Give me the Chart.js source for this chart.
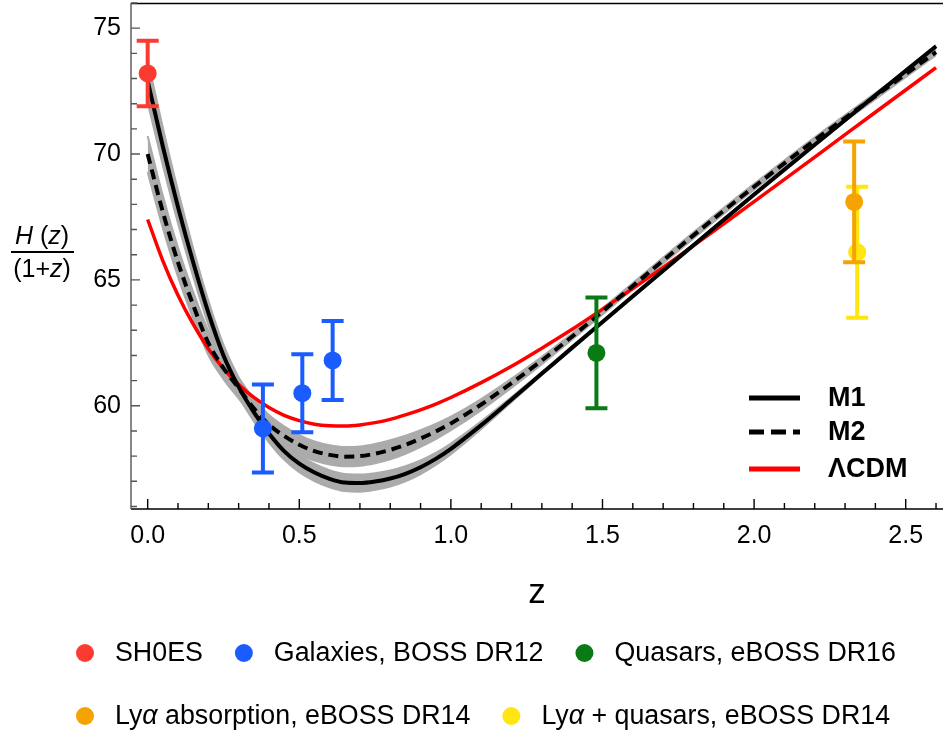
<!DOCTYPE html>
<html lang="en">
<head>
<meta charset="UTF-8">
<title>H(z)/(1+z)</title>
<script src="https://cdn.jsdelivr.net/npm/chart.js"></script>
<style>
  html, body { margin: 0; padding: 0; background: #fff; }
  #wrap { width: 943px; height: 734px; }
</style>
</head>
<body>
<div id="wrap"><canvas id="hz" width="943" height="734"></canvas></div>
<script>
  const FONT = '"Liberation Sans", Arial, sans-serif';

  // redshift grid for the model curves
  const zGrid = [0, 0.05, 0.1, 0.15, 0.2, 0.25, 0.3, 0.35, 0.4, 0.45, 0.5, 0.55, 0.6, 0.65, 0.7, 0.75, 0.8, 0.85, 0.9, 0.95,
                 1.0, 1.1, 1.2, 1.3, 1.4, 1.5, 1.6, 1.7, 1.8, 1.9, 2.0, 2.2, 2.4, 2.6];

  const m1   = [72.9, 70.3, 67.9, 65.7, 63.7, 62.0, 60.75, 59.75, 58.9, 58.2, 57.7, 57.35, 57.1, 56.95, 56.93, 56.99, 57.11, 57.3, 57.56, 57.89,
                58.29, 59.23, 60.25, 61.28, 62.31, 63.33, 64.35, 65.37, 66.38, 67.39, 68.39, 70.37, 72.33, 74.28];
  const m1Hi = [73.75, 71.05, 68.55, 66.26, 64.18, 62.42, 61.13, 60.11, 59.25, 58.54, 58.04, 57.69, 57.44, 57.29, 57.27, 57.32, 57.43, 57.6, 57.83, 58.13,
                58.5, 59.38, 60.35, 61.34, 62.36, 63.38, 64.4, 65.42, 66.43, 67.44, 68.44, 70.42, 72.38, 74.33];
  const m1Lo = [72.05, 69.55, 67.25, 65.14, 63.22, 61.58, 60.37, 59.39, 58.55, 57.86, 57.36, 57.01, 56.76, 56.61, 56.59, 56.66, 56.79, 57.0, 57.29, 57.65,
                58.08, 59.08, 60.15, 61.22, 62.26, 63.28, 64.3, 65.32, 66.33, 67.34, 68.34, 70.32, 72.28, 74.23];

  const m2   = [70.0, 67.7, 65.7, 64.0, 62.5, 61.5, 60.7, 59.9, 59.25, 58.8, 58.45, 58.2, 58.05, 57.98, 58.0, 58.1, 58.25, 58.45, 58.7, 58.98,
                59.3, 60.05, 60.9, 61.8, 62.75, 63.75, 64.76, 65.77, 66.77, 67.75, 68.7, 70.55, 72.3, 74.05];
  const m2Hi = [70.72, 68.34, 66.28, 64.53, 62.98, 61.94, 61.11, 60.28, 59.63, 59.18, 58.83, 58.58, 58.43, 58.36, 58.38, 58.48, 58.63, 58.81, 59.03, 59.28,
                59.57, 60.27, 61.08, 61.95, 62.87, 63.87, 64.88, 65.89, 66.89, 67.87, 68.82, 70.67, 72.42, 74.17];
  const m2Lo = [69.28, 67.06, 65.12, 63.47, 62.02, 61.06, 60.29, 59.52, 58.87, 58.42, 58.07, 57.82, 57.67, 57.6, 57.62, 57.72, 57.87, 58.09, 58.37, 58.68,
                59.03, 59.83, 60.72, 61.65, 62.63, 63.63, 64.64, 65.65, 66.65, 67.63, 68.58, 70.43, 72.18, 73.93];

  const lcdm = [67.4, 65.76, 64.39, 63.24, 62.27, 61.48, 60.84, 60.33, 59.93, 59.62, 59.41, 59.27, 59.21, 59.2, 59.24, 59.33, 59.46, 59.64, 59.84, 60.07,
                60.33, 60.92, 61.57, 62.29, 63.04, 63.84, 64.66, 65.5, 66.36, 67.23, 68.11, 69.88, 71.66, 73.43];

  // observational points: z, H/(1+z), symmetric error
  const obsNames  = ['SH0ES', 'Galaxies, BOSS DR12', 'Quasars, eBOSS DR16', 'Lyα absorption, eBOSS DR14', 'Lyα + quasars, eBOSS DR14'];
  const obsColors = ['#fb3b30', '#1a5cff', '#0a7a14', '#f4a300', '#ffe512'];
  const obsZ   = [[0], [0.38, 0.51, 0.61], [1.48], [2.33], [2.34]];
  const obsH   = [[73.2], [59.1, 60.5, 61.8], [62.1], [68.1], [66.1]];
  const obsErr = [[1.3], [1.75, 1.55, 1.57], [2.2], [2.4], [2.6]];

  const xTicks = [0, 0.5, 1.0, 1.5, 2.0, 2.5];
  const xMinor = [0.1, 0.2, 0.3, 0.4, 0.6, 0.7, 0.8, 0.9, 1.1, 1.2, 1.3, 1.4, 1.6, 1.7, 1.8, 1.9, 2.1, 2.2, 2.3, 2.4, 2.6];
  const yTicks = [60, 65, 70, 75];
  const yMinor = [56, 57, 58, 59, 61, 62, 63, 64, 66, 67, 68, 69, 71, 72, 73, 74, 76];

  const BAND = '#ababab';
  const pts = (xs, ys) => xs.map((x, i) => ({x: x, y: ys[i]}));

  // draws text pieces side by side, some in italic
  function richText(ctx, parts, x, y, size, align) {
    const widths = parts.map(p => {
      ctx.font = (p[1] ? 'italic ' : '') + size + 'px ' + FONT;
      return ctx.measureText(p[0]).width;
    });
    const total = widths.reduce((a, b) => a + b, 0);
    let cx = align === 'center' ? x - total / 2 : x;
    ctx.textAlign = 'left';
    parts.forEach((p, i) => {
      ctx.font = (p[1] ? 'italic ' : '') + size + 'px ' + FONT;
      ctx.fillText(p[0], cx, y);
      cx += widths[i];
    });
    return total;
  }
  const greekParts = s => {
    const bits = s.split('α');
    const out = [];
    bits.forEach((b, i) => {
      if (i > 0) out.push(['α', true]);
      if (b) out.push([b, false]);
    });
    return out;
  };

  const pointSets = obsNames.map((name, k) => ({
    label: name,
    data: pts(obsZ[k], obsH[k]),
    errors: obsErr[k],
    showLine: false,
    pointRadius: 9,
    pointHoverRadius: 9,
    pointBorderWidth: 0,
    backgroundColor: obsColors[k],
    borderColor: obsColors[k]
  }));

  const curveBase = {pointRadius: 0, cubicInterpolationMode: 'monotone', fill: false};

  const datasets = [
    pointSets[0], pointSets[1], pointSets[2], pointSets[3], pointSets[4],
    Object.assign({label: 'M2', data: pts(zGrid, m2), borderColor: '#000', borderWidth: 4, borderDash: [10, 6], inLegend: true}, curveBase),
    Object.assign({label: 'M1', data: pts(zGrid, m1), borderColor: '#000', borderWidth: 4, inLegend: true}, curveBase),
    Object.assign({label: 'ΛCDM', data: pts(zGrid, lcdm), borderColor: '#ff0000', borderWidth: 3.5, inLegend: true}, curveBase),
    Object.assign({}, curveBase, {label: 'M2 band', data: pts(zGrid, m2Hi), borderColor: BAND, borderWidth: 2, fill: '+1', backgroundColor: BAND}),
    Object.assign({}, curveBase, {label: 'M2 band lo', data: pts(zGrid, m2Lo), borderColor: BAND, borderWidth: 2}),
    Object.assign({}, curveBase, {label: 'M1 band', data: pts(zGrid, m1Hi), borderColor: BAND, borderWidth: 2, fill: '+1', backgroundColor: BAND}),
    Object.assign({}, curveBase, {label: 'M1 band lo', data: pts(zGrid, m1Lo), borderColor: BAND, borderWidth: 2})
  ];

  // error bars go under each marker
  const errorBars = {
    id: 'errorBars',
    beforeDatasetDraw(chart, args) {
      const ds = chart.data.datasets[args.index];
      if (!ds.errors) return;
      const {x, y} = chart.scales;
      const ctx = chart.ctx;
      ctx.save();
      ctx.strokeStyle = ds.backgroundColor;
      ctx.lineWidth = 4;
      ds.data.forEach((p, i) => {
        const px = x.getPixelForValue(p.x);
        const top = y.getPixelForValue(p.y + ds.errors[i]);
        const bot = y.getPixelForValue(p.y - ds.errors[i]);
        ctx.beginPath();
        ctx.moveTo(px, top); ctx.lineTo(px, bot);
        ctx.moveTo(px - 11, top); ctx.lineTo(px + 11, top);
        ctx.moveTo(px - 11, bot); ctx.lineTo(px + 11, bot);
        ctx.stroke();
      });
      ctx.restore();
    }
  };

  // frame lines and inward ticks
  const frame = {
    id: 'frame',
    beforeDatasetsDraw(chart) {
      const {ctx, chartArea: a, scales: {x, y}} = chart;
      ctx.save();
      ctx.lineWidth = 1.4;
      ctx.strokeStyle = '#000';
      ctx.beginPath();
      ctx.moveTo(a.left, a.top + 0.5); ctx.lineTo(a.right, a.top + 0.5);
      ctx.moveTo(a.left, a.bottom); ctx.lineTo(a.right, a.bottom);
      xTicks.forEach(v => { const px = x.getPixelForValue(v); ctx.moveTo(px, a.bottom); ctx.lineTo(px, a.bottom - 10); });
      xMinor.forEach(v => { const px = x.getPixelForValue(v); ctx.moveTo(px, a.bottom); ctx.lineTo(px, a.bottom - 6); });
      ctx.stroke();
      ctx.strokeStyle = '#555';
      ctx.beginPath();
      ctx.moveTo(a.left, a.top); ctx.lineTo(a.left, a.bottom);
      yTicks.forEach(v => { const py = y.getPixelForValue(v); ctx.moveTo(a.left, py); ctx.lineTo(a.left + 9, py); });
      yMinor.forEach(v => { const py = y.getPixelForValue(v); ctx.moveTo(a.left, py); ctx.lineTo(a.left + 6, py); });
      ctx.stroke();
      ctx.restore();
    }
  };

  // y label fraction, line legend inside the plot, marker legend below
  const labels = {
    id: 'labels',
    afterDraw(chart) {
      const ctx = chart.ctx;
      ctx.save();
      ctx.fillStyle = '#000';
      ctx.textBaseline = 'middle';
      richText(ctx, [['H', true], [' (', false], ['z', true], [')', false]], 42, 237, 25, 'center');
      ctx.fillRect(11, 251, 63, 2);
      richText(ctx, [['(1+', false], ['z', true], [')', false]], 42, 270, 25, 'center');

      const lineSets = chart.data.datasets.filter(d => d.inLegend);
      const order = ['M1', 'M2', 'ΛCDM'];
      const rowsY = [398, 432, 469];
      order.forEach((name, i) => {
        const ds = lineSets.find(d => d.label === name);
        ctx.strokeStyle = ds.borderColor;
        ctx.lineWidth = 5;
        ctx.setLineDash(ds.borderDash ? [15, 7] : []);
        ctx.beginPath();
        ctx.moveTo(749, rowsY[i]); ctx.lineTo(800, rowsY[i]);
        ctx.stroke();
        ctx.setLineDash([]);
        ctx.font = 'bold 27px ' + FONT;
        ctx.textAlign = 'left';
        ctx.fillText(name, 828, rowsY[i] + 1);
      });

      const rows = [[0, 1, 2], [3, 4]];
      const legY = [653, 716];
      rows.forEach((row, r) => {
        let cx = 85;
        row.forEach(k => {
          ctx.fillStyle = obsColors[k];
          ctx.beginPath();
          ctx.arc(cx, legY[r], 9, 0, Math.PI * 2);
          ctx.fill();
          ctx.fillStyle = '#000';
          const w = richText(ctx, greekParts(obsNames[k]), cx + 30, legY[r] + 1, 26.8, 'left');
          cx += 30 + w + 41;
        });
      });
      ctx.restore();
    }
  };

  // keep the plot frame fixed: no extra padding for edge tick labels
  const noPad = s => { s.paddingTop = 0; s.paddingBottom = 0; s.paddingLeft = 0; s.paddingRight = 0; };

  new Chart(document.getElementById('hz'), {
    type: 'line',
    data: {datasets: datasets},
    plugins: [errorBars, frame, labels],
    options: {
      responsive: false,
      devicePixelRatio: 1,
      animation: false,
      layout: {autoPadding: false, padding: {top: 3, right: 0, left: 0, bottom: 0}},
      plugins: {legend: {display: false}, tooltip: {enabled: false}},
      scales: {
        x: {
          type: 'linear',
          min: -0.055,
          max: 2.623,
          afterBuildTicks: s => { s.ticks = xTicks.map(v => ({value: v})); },
          afterFit: s => { s.height = 225; noPad(s); },
          grid: {display: false, drawTicks: false},
          border: {display: false},
          ticks: {color: '#000', font: {family: FONT, size: 25}, padding: 12, maxRotation: 0,
                  callback: v => v.toFixed(1)},
          title: {display: true, text: 'z', color: '#000', font: {family: FONT, size: 35},
                  padding: {top: 0, bottom: 120}}
        },
        y: {
          min: 55.9,
          max: 76.0,
          afterBuildTicks: s => { s.ticks = yTicks.map(v => ({value: v})); },
          afterFit: s => { s.width = 131; noPad(s); },
          grid: {display: false, drawTicks: false},
          border: {display: false},
          ticks: {color: '#000', font: {family: FONT, size: 25}, padding: 10}
        }
      }
    }
  });
</script>
</body>
</html>
